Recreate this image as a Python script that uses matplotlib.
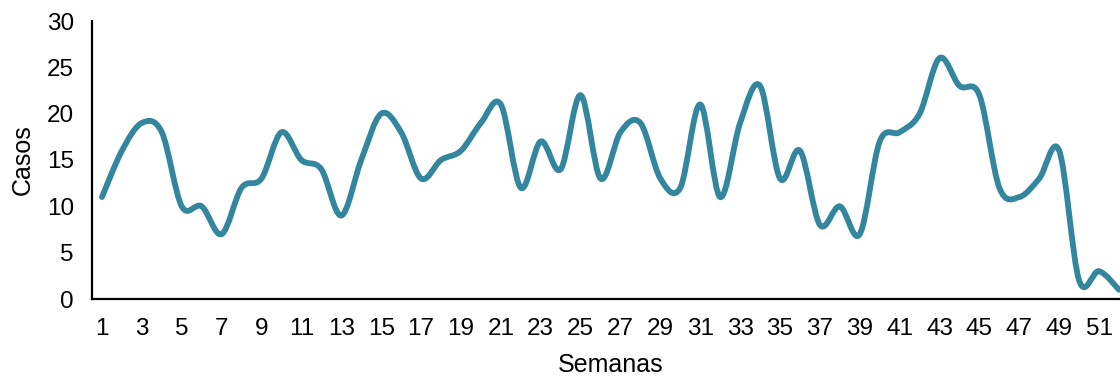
import numpy as np
import matplotlib.pyplot as plt
from matplotlib.path import Path
from matplotlib.patches import PathPatch

plt.rcParams['font.family'] = ['Liberation Sans', 'DejaVu Sans']

# casos por semana epidemiologica
semanas = np.arange(1, 53)
casos = [11, 16, 19, 18, 10, 10, 7, 12, 13, 18,
         15, 14, 9, 15, 20, 18, 13, 15, 16, 19,
         21, 12, 17, 14, 22, 13, 18, 19, 13, 12,
         21, 11, 19, 23, 13, 16, 8, 10, 7, 17,
         18, 20, 26, 23, 22, 12, 11, 13, 16, 2,
         3, 1]
etiquetas = [str(s) for s in semanas[::2]]


def curva_suave(x, y):
    # bezier cubica por tramos (tipo Catmull-Rom), como la linea suavizada de Excel
    pts = np.column_stack([x, y]).astype(float)
    ext = np.vstack([pts[0], pts, pts[-1]])
    verts = [pts[0]]
    codes = [Path.MOVETO]
    for i in range(len(pts) - 1):
        p0, p1, p2, p3 = ext[i], ext[i + 1], ext[i + 2], ext[i + 3]
        c1 = p1 + (p2 - p0) / 6.0
        c2 = p2 - (p3 - p1) / 6.0
        verts += [c1, c2, p2]
        codes += [Path.CURVE4] * 3
    return Path(verts, codes)


fig = plt.figure(figsize=(11.2, 3.79), dpi=100)
ax = fig.add_axes([92 / 1120, 80 / 379, 1037 / 1120, 278 / 379])

ax.add_patch(PathPatch(curva_suave(semanas, casos), facecolor='none',
                       edgecolor='#33869E', lw=4.2, capstyle='round',
                       joinstyle='round'))

ax.set_xlim(0.5, 52.5)
ax.set_ylim(0, 30)
ax.set_yticks(range(0, 31, 5))
ax.set_xticks(semanas[::2])
ax.set_xticklabels(etiquetas)
ax.tick_params(length=0, labelsize=17.5)
ax.tick_params(axis='x', pad=14)
ax.tick_params(axis='y', pad=13)

for s in ['top', 'right']:
    ax.spines[s].set_visible(False)
for s in ['left', 'bottom']:
    ax.spines[s].set_linewidth(1.6)
    ax.spines[s].set_color('black')

ax.set_xlabel('Semanas', fontsize=18, labelpad=9)
ax.set_ylabel('Casos', fontsize=18, labelpad=9)

fig.savefig('out.png', dpi=100)
